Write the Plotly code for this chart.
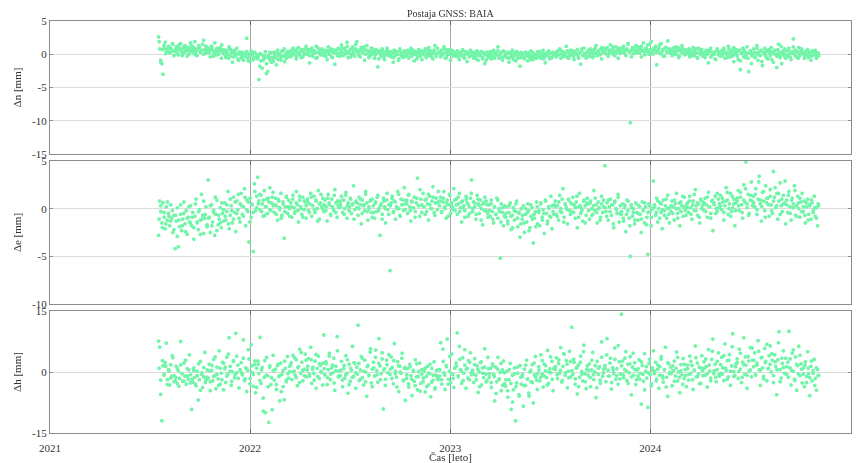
import numpy as np
import pandas as pd
import plotly.graph_objects as go
from plotly.subplots import make_subplots

title_text = "Postaja GNSS: BAIA"
x_title = "Čas [leto]"
y_titles = ["Δn [mm]", "Δe [mm]", "Δh [mm]"]
year_ticks = ["2021", "2022", "2023", "2024", "2025"]
y_ticks_n = [5, 0, -5, -10, -15]
y_ticks_e = [5, 0, -5, -10]
y_ticks_h = [15, 0, -15]
first_epoch = "2021-07-18"
last_epoch = "2024-11-03"

# daily solutions, set A (even days)
dn_text = """
2.6 0.8 -0.9 -1.4 -3.0 0.9 1.8 0.4 0.6 1.2 0.2 0.9 0.5 1.5 -0.2
0.4 1.1 0.7 -0.1 0.9 1.6 0.3 0.8 0.2 1.3 0.6 -0.3 1.0 0.5 0.9
1.4 0.2 0.7 1.9 0.4 -0.2 0.8 1.1 0.3 0.6 1.5 0.0 0.7 1.2 0.5
0.9 0.3 -0.4 1.2 0.6 0.1 1.7 0.4 -0.1 0.8 0.5 1.0 -0.6 0.3 0.7
0.2 -0.5 0.6 0.0 1.1 -0.3 0.4 -1.2 0.5 0.1 -0.2 0.9 -0.7 0.3 0.0
-0.4 0.3 -0.9 0.1 -0.3 2.4 -0.6 0.0 -1.1 0.5 -0.2 -0.8 0.2 -0.5 -0.1
-0.7 -3.8 0.1 -1.0 -2.1 -0.3 -0.6 0.4 -1.4 -2.6 -0.2 -0.8 0.2 -0.5 -1.1
0.3 -0.5 -1.6 0.6 -0.2 0.1 -0.9 0.5 -0.3 0.8 -0.1 -0.6 0.4 0.0 -0.4
0.5 -0.2 0.9 0.1 0.6 -0.7 0.3 1.0 -0.1 0.4 0.7 -0.4 0.2 0.8 0.0
0.1 0.7 -1.3 0.4 0.9 -0.3 0.5 0.2 1.2 -0.5 0.3 0.6 -0.1 0.8 0.2
-0.2 0.6 0.3 -0.8 1.1 0.0 0.4 -0.4 0.7 0.2 -1.5 0.5 0.1 0.9 -0.3
0.6 1.4 -0.2 0.3 0.9 0.1 1.8 -0.5 0.4 0.7 0.0 1.1 0.2 -0.3 0.8
1.9 0.2 0.5 -0.4 1.0 0.3 0.8 -0.9 0.6 1.3 0.1 0.4 -0.2 0.9 0.5
0.0 -0.6 0.7 0.3 -1.9 0.5 0.1 -0.3 0.8 0.2 -0.8 0.4 -0.1 0.6 0.2
0.3 -0.4 0.1 -1.2 0.6 -0.2 0.4 0.0 -0.7 0.8 -0.1 0.2 -0.5 0.5 -0.3
-0.2 0.6 -0.6 0.1 0.9 -0.3 0.3 -1.0 0.4 0.0 -0.4 0.7 -0.1 0.2 -0.8
0.4 -0.1 0.8 -0.5 0.2 1.0 -0.2 0.5 0.0 -0.7 0.6 0.1 -0.3 0.9 0.3
0.2 -0.4 0.6 0.0 1.1 -0.6 0.3 -0.1 0.7 0.4 -0.9 0.1 0.5 -0.2 0.0
-0.3 0.5 0.1 -0.8 0.3 -0.2 0.7 -0.5 0.0 0.4 -1.1 0.2 -0.4 0.6 -0.1
0.1 -0.6 0.3 -0.3 0.5 -0.9 0.0 -0.2 0.4 -0.7 0.2 -1.4 -0.1 0.3 -0.5
-0.2 0.4 -0.7 0.1 0.6 -0.4 0.2 -0.1 1.1 -0.6 0.0 0.3 -0.9 0.5 -0.3
0.0 -0.5 0.3 -1.2 0.2 -0.3 0.6 -0.8 0.1 -0.2 0.4 -0.6 0.0 -1.8 0.3
-0.4 0.1 -0.7 0.3 -0.2 -1.0 0.2 -0.5 0.5 -0.3 -0.8 0.0 -0.1 -0.6 0.4
-0.3 0.4 -0.6 0.0 0.6 -0.4 -1.3 0.2 -0.2 0.5 -0.7 0.1 -0.5 0.3 -0.1
0.2 -0.4 0.5 -0.1 0.8 -0.6 0.1 0.4 -0.3 0.0 1.2 -0.5 0.3 -0.2 0.6
-0.1 0.5 -0.8 0.3 0.0 0.7 -0.4 0.2 -1.5 0.4 -0.2 0.9 0.1 -0.6 0.3
0.4 -0.3 0.8 0.1 -0.5 0.6 0.2 1.3 -0.2 0.5 0.0 0.7 -0.7 0.3 0.9
0.6 0.1 1.0 -0.3 0.5 1.4 0.2 0.8 -0.1 0.4 1.1 0.3 -0.6 0.7 0.5
0.9 0.3 1.2 0.5 -0.2 0.8 1.5 0.4 -10.3 0.6 1.0 0.1 0.7 1.3 0.2
1.1 0.4 0.8 -0.4 0.6 1.7 0.3 0.9 0.5 1.4 0.0 0.7 1.9 0.2 0.8
0.6 1.2 -1.6 0.4 0.9 0.1 1.6 0.5 -0.3 0.8 1.0 0.3 2.0 0.6 0.2
0.5 -0.2 0.9 0.3 1.1 0.0 0.6 -0.5 0.8 0.4 1.3 0.1 0.7 -0.1 0.5
0.3 0.8 -0.4 0.5 0.1 1.0 -0.2 0.6 0.2 -0.6 0.9 0.4 0.0 0.7 -0.3
0.2 -0.5 0.6 0.0 -1.3 0.4 0.9 -0.2 0.3 0.1 -0.7 0.5 0.8 -0.1 0.2
-0.3 0.5 0.1 0.9 -0.6 0.3 -0.1 1.2 0.2 -0.4 0.6 0.0 -1.1 0.4 0.7
0.3 -0.8 0.6 -2.3 0.1 0.9 -0.4 0.4 -0.1 1.1 -0.6 0.2 0.5 -1.4 0.0
0.8 -0.5 0.2 1.3 -0.9 0.4 -0.2 0.6 -1.7 0.1 0.9 -0.3 0.5 -0.7 0.3
-0.2 1.0 0.3 -1.2 0.6 0.0 -2.0 0.7 0.2 -0.5 1.2 0.4 -0.1 0.8 -0.6
0.5 -0.3 0.9 0.1 -0.8 0.4 2.3 0.0 0.6 -0.4 0.3 1.0 -0.2 0.5 0.1
0.2 -0.6 0.4 0.0 0.7 -0.3 0.3 -0.9 0.5 -0.1 0.2 0.6 -0.4 0.1 -0.2
"""

de_text = """
-2.8 0.8 -0.3 -1.5 0.6 -0.9 -2.1 0.2 -1.2 -0.5 -1.8 0.4 -1.0 -2.5 -0.7
-4.2 -1.3 0.1 -4.0 -1.9 -0.6 -2.3 -1.1 0.7 -1.6 -0.2 -2.7 -0.9 -1.4 0.3
-1.8 -0.4 -3.2 -0.8 1.0 -1.5 -2.2 -0.1 -1.2 1.5 -0.7 -2.6 -1.0 0.2 -1.9
3.0 -0.9 -2.5 0.4 -1.4 -0.2 -2.8 -0.6 0.9 -1.7 -1.1 0.1 -2.0 -0.5 -1.3
0.6 -1.2 -0.3 1.8 -2.1 -0.7 0.3 -1.5 1.2 -0.4 -2.4 0.8 -0.1 -1.0 0.5
1.6 -0.6 0.2 2.1 -1.8 0.9 -0.3 -3.5 1.1 -0.9 0.4 -4.5 2.6 -0.2 1.3
3.3 0.8 -0.1 1.4 0.5 -0.8 1.9 0.2 1.0 -0.5 0.7 2.2 -0.2 1.2 0.3
-0.4 1.1 0.3 -1.2 0.8 -0.1 1.6 -0.7 0.5 -3.1 0.2 1.3 -0.5 0.9 0.0
0.6 -0.9 1.4 0.1 -0.3 1.8 0.4 -1.4 0.9 0.2 -0.6 1.2 -0.1 0.7 -1.0
1.0 -0.2 0.5 1.6 -0.8 0.3 1.3 -0.4 0.8 0.0 1.9 -1.1 0.6 0.2 1.1
-0.3 0.9 0.2 -1.3 1.5 0.4 -0.6 1.0 0.1 -0.2 2.0 0.6 -0.9 0.3 0.8
0.5 1.3 -0.4 0.9 0.0 1.7 -1.0 0.6 0.2 1.1 -0.5 0.4 2.4 -0.1 0.8
0.1 -0.7 1.2 0.4 -1.6 0.9 0.3 -0.2 1.5 0.6 -1.2 0.0 0.8 -0.4 1.0
0.3 -1.0 0.7 -0.3 1.4 0.0 -2.8 0.5 -0.6 1.1 0.2 -1.5 0.9 -0.1 0.4
-6.5 0.6 1.3 -0.4 0.8 -1.1 0.2 1.8 0.0 -0.7 1.0 0.4 -0.2 2.2 0.5
0.9 -0.5 1.5 0.2 -1.3 0.7 0.1 1.2 -0.3 0.6 3.2 0.3 -0.8 1.0 0.4
1.6 0.2 -0.6 1.0 0.5 -1.2 1.3 0.0 0.8 2.3 -0.4 0.6 1.1 -0.1 0.7
0.3 1.2 -0.3 0.7 1.8 0.0 -1.0 0.9 0.4 1.5 -0.5 0.6 0.1 2.1 -0.2
1.0 -0.6 0.5 1.6 0.1 -1.4 0.8 0.3 -0.2 1.3 0.6 -0.8 0.2 1.1 3.0
-0.3 0.7 0.2 -1.1 1.4 0.5 -0.5 0.9 0.0 -1.7 0.6 1.2 -0.2 0.4 -0.9
0.4 -0.8 0.9 -0.3 -1.5 0.2 -0.6 1.1 -1.0 0.0 -5.2 0.5 -0.4 -1.8 0.3
-0.9 0.2 -1.6 -0.4 0.6 -2.2 -0.7 0.1 -1.2 -0.3 0.8 -1.9 -0.5 -3.0 0.0
-1.1 0.3 -2.5 -0.6 -1.4 0.5 -0.2 -2.0 -0.8 0.1 -3.6 -1.0 -0.3 0.7 -1.6
-0.4 -1.8 0.6 -0.9 -0.1 -2.6 0.9 -0.5 -1.3 0.2 -0.8 1.3 -2.1 -0.3 0.4
0.8 -0.6 0.3 -1.2 1.4 0.0 -0.4 2.1 -0.9 0.5 0.1 -1.6 1.0 -0.2 0.6
-0.3 1.2 0.4 -1.0 0.7 -2.0 0.2 1.6 -0.5 0.0 -1.3 0.9 0.3 -0.7 1.1
0.5 -1.1 0.8 0.0 -0.6 1.9 -0.2 0.4 -1.5 0.7 0.1 -0.9 1.3 -0.4 0.2
4.5 -0.3 0.6 -1.2 0.2 1.0 -0.7 0.4 -2.0 0.8 0.0 -0.5 1.5 -1.4 0.3
-0.6 0.5 -1.3 0.1 -2.4 0.9 -0.2 -1.0 -5.0 0.4 -0.8 0.0 -1.6 0.6 -0.4
-1.2 0.3 -0.6 -2.5 0.7 -0.1 -1.5 0.2 -0.9 -4.8 0.5 -0.3 -1.8 0.0 2.9
0.4 -0.7 1.1 -1.4 0.0 0.6 -0.4 -2.1 0.9 -0.2 0.3 -1.0 1.4 -0.6 0.1
-0.3 0.8 0.2 -1.2 0.5 1.6 -0.5 0.0 -1.8 0.7 0.3 -0.8 1.2 -0.2 0.4
0.6 -0.4 1.3 0.1 -1.1 0.8 -0.2 2.0 0.3 -0.7 0.5 -1.5 1.0 0.0 0.7
-0.2 1.1 0.4 -0.9 1.7 0.2 -0.5 0.8 -2.3 0.6 1.3 0.0 -0.3 1.0 0.5
1.4 -0.1 0.7 -1.2 0.3 2.2 0.9 -0.6 0.5 1.6 -0.3 0.1 1.0 -1.8 0.6
0.8 1.9 -0.2 1.2 0.4 -1.0 2.5 0.7 4.9 0.1 1.5 -0.5 0.9 2.8 0.3
1.3 0.2 2.1 -0.6 1.0 3.4 0.5 -1.3 1.7 0.8 -0.2 2.4 0.6 1.1 -0.8
2.0 0.4 -0.5 3.9 1.2 0.1 1.6 -1.1 0.8 2.7 0.3 -0.3 1.4 0.6 -1.6
0.9 -0.4 1.8 0.2 -1.2 1.1 0.5 2.4 -0.7 0.3 1.3 0.0 -0.9 0.7 1.6
-0.3 0.8 -1.5 0.2 1.0 -0.6 0.4 -1.1 0.6 -0.2 1.3 -0.8 0.1 -1.8 0.3
"""

dh_text = """
7.6 6.1 -5.5 -12.0 1.5 -0.8 2.3 7.1 -1.9 0.6 -3.2 1.8 -1.1 3.5 -2.4
-2.1 1.4 -2.8 0.3 -1.6 7.5 -0.4 -2.3 2.2 -1.0 -3.0 0.8 -1.8 4.2 -0.7
-9.2 -2.5 1.0 -1.3 -3.4 0.2 -6.9 -1.9 2.6 -0.6 -3.8 -1.2 4.8 -2.0 0.5
-1.5 1.9 -4.6 0.4 -2.2 3.1 -0.9 -4.1 1.2 -1.7 5.2 -3.0 -0.3 2.4 -4.4
0.8 -2.6 3.6 -0.5 8.4 1.4 -3.3 0.1 2.8 -1.4 9.5 -0.2 1.7 -3.9 0.6
2.3 -0.7 7.9 -2.1 1.0 -4.8 0.4 3.2 -1.6 6.7 -0.1 -3.5 1.8 -5.1 0.9
2.7 -0.4 8.5 -2.8 1.1 -9.6 -1.3 -10.0 3.6 -0.9 -12.4 1.5 -3.1 -9.3 0.3
-2.0 0.7 -4.3 1.6 -1.1 -7.1 2.2 -0.6 -3.6 -6.8 0.9 -2.4 3.8 -1.5 0.1
1.8 -1.9 4.1 0.2 -0.8 3.0 -3.4 1.3 5.6 -0.3 2.4 -2.2 0.7 4.4 -1.2
0.5 3.3 -1.0 6.1 -2.8 1.2 -0.4 2.7 -4.0 0.9 3.9 -1.6 1.7 -0.1 2.2
9.1 -0.7 2.0 -3.1 0.6 4.6 -1.9 1.0 -0.2 3.4 -4.5 1.4 8.7 -1.2 0.3
-0.9 2.6 -3.6 0.8 -1.5 4.0 -0.3 -5.2 1.9 -2.3 0.4 6.3 -1.1 2.1 -4.0
1.2 11.5 -2.1 0.5 3.8 -1.4 -3.2 2.9 0.0 -6.0 1.6 -0.8 4.9 -2.7 0.7
2.4 -1.0 5.4 0.3 -2.5 8.2 1.5 -0.4 3.2 -9.1 0.8 -1.8 2.9 -0.2 4.3
-0.6 3.7 1.1 -2.9 7.0 0.2 -1.3 2.5 -4.8 1.4 -0.3 4.6 -2.0 0.9 -7.0
-1.6 0.8 -3.7 1.9 -0.9 -5.8 0.4 -2.3 3.0 -1.2 -4.4 0.1 2.2 -2.8 -0.5
-2.4 0.3 -4.9 -1.1 1.4 -3.2 -0.4 -6.1 0.9 -2.0 2.5 -3.9 -0.8 -1.6 0.6
-1.0 7.2 -3.0 5.6 -0.2 -4.3 1.6 8.1 -1.8 0.2 -2.6 4.4 -0.6 -3.8 1.1
2.2 9.6 -1.2 6.3 0.6 -2.8 3.5 -0.3 1.7 -4.0 0.9 2.8 -1.9 4.7 -0.7
0.4 -2.6 3.3 -0.8 1.5 -5.0 0.0 2.3 -3.2 1.0 -1.4 5.7 -0.5 -2.1 0.8
-1.3 0.9 -3.8 2.0 -0.6 -7.1 1.2 -2.4 3.6 -1.7 -0.1 -4.6 0.5 2.7 -2.9
-3.5 0.2 -6.2 -1.9 2.1 -9.2 -0.8 -4.4 1.0 -12.0 -2.7 -0.3 -5.6 1.6 -3.0
-1.1 -8.4 0.7 -3.3 2.9 -1.7 -5.2 0.0 -2.4 1.8 -7.6 -0.7 3.8 -2.0 -0.4
1.3 -2.2 4.2 -0.5 -3.7 1.9 0.3 -1.4 5.3 -2.8 0.8 -0.2 2.6 -4.6 1.0
0.6 3.5 -1.6 2.1 -0.3 6.0 -2.5 1.4 4.4 -0.8 2.8 -3.9 0.2 5.1 -1.2
11.0 -0.6 2.4 -3.0 0.9 -5.4 1.7 -1.3 3.9 0.1 -2.2 6.6 -0.4 -4.1 1.5
-0.8 2.0 -3.6 0.5 4.8 -1.9 0.0 -6.3 2.6 -0.6 1.3 -2.8 7.4 -1.1 0.7
1.6 -2.4 8.2 0.4 -1.0 3.4 -4.2 1.1 -0.3 5.9 -1.8 0.8 -3.0 2.5 -0.5
14.2 2.7 -1.4 0.6 5.0 -2.1 1.9 -0.2 3.8 -5.6 1.2 -0.8 2.3 -3.1 0.5
-1.0 3.0 -0.3 -7.9 1.6 -2.3 4.5 0.2 -1.5 -8.7 2.1 -0.6 -3.4 1.0 5.2
-0.4 2.4 -1.8 0.7 -4.0 1.3 3.2 -0.9 -2.5 0.5 6.1 -1.3 -6.0 2.0 -0.1
1.1 -3.4 0.3 2.7 -1.0 4.9 -2.2 0.0 -5.1 1.8 -0.7 3.3 -1.6 0.6 -3.6
0.8 -2.0 3.9 -0.3 1.6 -4.3 0.4 6.4 -1.2 2.2 -0.5 -2.9 1.0 4.0 -0.9
2.5 -0.8 1.3 -3.7 5.5 0.2 -1.5 3.1 8.1 -0.4 1.9 -2.4 0.6 4.7 -1.0
-0.3 3.6 1.0 -2.1 6.9 0.4 2.8 -1.2 4.3 -3.3 1.5 9.4 0.1 -0.9 2.0
3.2 -1.6 5.6 0.7 -2.6 2.4 8.4 -0.5 1.7 -4.0 3.8 0.2 6.0 -1.2 2.9
1.3 4.7 -0.8 2.2 7.7 0.5 -3.3 3.5 1.0 -1.1 5.8 2.6 -2.2 0.8 4.0
6.4 0.0 2.9 -2.6 4.2 1.4 -5.6 3.0 9.9 0.6 -1.5 2.1 5.2 -0.3 3.4
-0.6 2.4 10.0 1.0 -3.2 4.6 0.2 -1.8 3.7 -4.5 1.6 6.3 -0.9 2.0 -2.7
0.9 -3.6 2.5 -1.1 5.0 -0.4 -5.8 1.4 -2.2 0.3 3.1 -1.6 -4.5 0.6 -0.8
"""

# daily solutions, set B (odd days)
dn_text_b = """
1.9 -1.2 0.7 1.3 0.1 0.8 1.0 0.3 1.6 0.5
0.8 0.2 1.4 0.6 -0.2 1.1 0.4 0.9 0.0 1.7
0.5 1.0 -0.1 0.8 1.3 0.3 0.6 2.1 0.2 0.9
0.2 0.7 1.1 -0.3 0.5 0.9 0.0 0.6 1.4 0.1
-0.1 0.4 -0.6 0.8 0.2 -0.4 0.6 0.0 -0.9 0.3
-0.6 0.0 -0.3 0.4 -1.0 -0.2 0.1 -0.7 0.3 -0.4
-0.4 -1.8 0.0 -0.9 -0.2 -2.9 -0.5 0.3 -1.2 -0.6
-0.2 0.2 -0.8 0.0 -0.4 0.5 -1.1 0.1 -0.3 0.4
0.3 0.0 0.6 -0.3 0.9 0.2 -0.5 0.5 0.1 1.2
0.4 -0.2 0.8 0.1 0.5 -0.6 1.0 0.3 -0.1 0.6
0.2 -0.3 0.5 0.0 0.8 -0.5 0.3 0.6 -0.2 0.1
0.3 0.9 -0.1 0.5 1.2 0.2 -0.4 0.7 0.4 1.5
0.5 -0.2 0.8 0.2 1.1 0.0 0.6 -0.5 0.3 0.9
0.3 -0.1 0.5 -0.7 0.2 0.6 -0.4 0.1 0.9 -0.2
-0.1 0.4 -0.5 0.2 0.0 -0.9 0.5 -0.3 0.3 0.1
0.1 -0.5 0.4 -0.2 0.6 0.0 -0.7 0.3 -0.3 0.5
0.0 0.5 -0.3 0.7 0.2 -0.4 0.4 1.3 -0.1 0.3
0.4 -0.2 0.1 0.8 -0.5 0.3 0.0 0.6 -0.3 0.2
0.1 -0.4 0.3 -0.1 0.5 -0.6 0.2 0.0 -0.3 0.4
-0.3 0.1 -0.7 0.2 -0.2 0.4 -0.5 0.0 -0.9 0.1
0.1 -0.3 0.3 -0.6 0.0 0.5 -0.2 0.2 -0.5 0.4
-0.2 0.2 -0.6 0.0 -0.4 0.3 -1.0 -0.1 0.1 -0.5
-0.1 -0.5 0.2 -0.3 0.0 -0.8 0.3 -0.4 -0.2 0.1
0.0 -0.3 0.3 -0.7 0.1 -0.2 0.4 -0.5 0.2 -0.1
-0.2 0.3 0.0 0.6 -0.4 0.2 -0.1 0.5 -0.6 0.1
0.2 -0.3 0.4 0.0 -0.6 0.3 0.8 -0.2 0.1 -0.4
0.6 0.0 0.3 -0.4 0.9 0.2 0.5 -0.1 1.0 0.4
0.3 0.8 0.0 0.6 0.2 1.1 -0.2 0.5 0.9 0.1
0.5 1.0 0.2 0.7 1.6 0.3 -0.4 0.9 0.4 1.2
0.7 0.2 1.2 0.5 -0.1 0.9 0.4 1.5 0.6 0.0
0.9 0.3 0.6 1.4 0.1 0.7 -0.3 1.0 0.4 0.8
0.2 0.7 0.0 0.5 1.0 -0.3 0.4 0.8 0.1 0.6
0.5 0.0 0.6 -0.2 0.3 0.8 -0.5 0.2 0.4 -0.1
-0.1 0.4 0.1 0.6 -0.4 0.3 0.0 -0.8 0.5 0.2
0.4 -0.2 0.6 0.1 -0.5 0.8 0.2 -0.3 1.0 0.0
-0.3 0.5 -1.0 0.2 0.7 -0.5 0.1 -2.6 0.4 -0.2
0.2 -0.4 0.9 -0.1 0.5 -1.1 0.3 0.0 -0.6 0.7
0.4 -0.8 0.1 0.6 -0.3 1.5 0.0 -1.4 0.3 -0.5
-0.1 0.6 -0.4 0.3 1.1 -0.2 0.4 -0.6 0.0 0.8
0.3 -0.2 0.5 -0.5 0.1 -0.3 0.4 0.0 -0.6 0.2
"""

de_text_b = """
-1.1 0.3 -2.0 -0.4 -1.6 0.7 -0.8 -1.3 -0.2 -2.2
-0.7 -2.9 -1.2 0.4 -1.8 -0.5 -2.4 -1.0 0.2 -1.5
-0.9 -2.0 0.5 -1.4 -0.3 -2.7 -1.1 0.8 -0.6 -1.7
-1.0 0.3 -1.8 -0.4 1.2 -2.3 -0.7 -1.5 0.6 -0.1
-0.8 0.4 -1.6 1.0 -0.2 -1.1 0.7 -0.5 1.5 -1.4
0.3 -0.8 1.2 -0.1 0.7 -1.4 0.5 -0.4 1.8 0.1
0.5 1.5 -0.3 0.9 -0.7 0.2 1.1 -0.1 0.6 1.7
0.4 -0.6 1.0 0.1 -1.0 0.7 -0.3 1.2 0.2 -0.8
0.2 1.0 -0.5 0.6 -0.2 1.3 0.0 -0.9 0.8 0.3
0.7 -0.4 1.2 0.3 -0.1 0.9 -1.3 0.5 1.5 0.0
0.4 -0.2 1.1 0.6 -0.7 0.2 1.4 -0.4 0.8 0.1
0.2 0.9 -0.6 1.4 0.3 -0.2 1.0 0.5 -1.1 0.7
0.6 0.0 1.0 -0.5 0.4 1.8 -0.3 0.2 0.9 -0.9
-0.4 0.6 1.2 -0.2 0.3 -1.1 0.8 0.0 1.6 -0.6
0.3 1.1 -0.3 0.7 0.0 1.5 -0.8 0.4 0.9 -0.1
0.5 1.4 -0.2 0.8 0.1 -0.9 1.1 0.3 2.0 -0.4
0.2 0.9 -0.3 1.5 0.4 0.0 1.2 -0.7 0.6 1.8
0.8 -0.4 1.1 0.2 0.6 -0.8 1.4 0.3 -0.1 0.9
0.4 1.2 -0.3 0.7 0.1 -0.9 1.0 0.5 -0.5 1.6
0.0 0.6 -0.6 1.0 0.3 -1.2 0.5 -0.2 0.8 -0.5
-0.2 0.5 -1.1 0.2 -0.6 0.9 -0.3 -1.4 0.1 -0.8
-0.5 -1.3 0.3 -0.8 -2.0 -0.2 0.5 -1.0 -0.4 -1.6
-0.7 -1.5 0.0 -0.4 -2.3 0.4 -1.1 -0.6 -1.9 0.2
-0.2 0.5 -1.2 -0.5 0.8 -1.6 0.0 -0.9 0.3 -0.6
0.2 -0.8 0.7 -0.3 1.0 -1.4 0.4 -0.1 0.9 -0.6
0.5 -0.4 0.1 1.3 -0.9 0.3 -0.2 0.8 -1.5 0.6
-0.2 0.6 -0.7 0.3 1.1 -0.4 0.0 -1.2 0.5 0.9
0.1 -0.8 0.9 -0.3 0.4 -1.6 0.7 -0.1 1.2 -0.5
-0.3 -1.0 0.4 -0.6 0.8 -1.8 0.1 -0.4 -1.2 0.5
-0.5 0.2 -1.1 -0.2 0.6 -1.7 -0.4 0.3 -0.9 0.0
0.2 -0.4 0.8 -1.0 0.5 -0.1 -0.7 1.0 0.0 -1.5
0.3 -0.5 0.9 0.0 -1.0 0.6 -0.3 1.3 0.1 -0.7
0.1 0.8 -0.6 0.4 1.5 -0.2 0.6 -0.9 0.9 0.3
0.6 -0.3 1.2 0.2 -1.0 0.9 0.4 -0.5 1.6 0.1
0.3 1.1 -0.4 0.8 1.7 0.0 -0.8 1.3 0.5 -0.2
1.1 0.3 1.7 -0.4 0.9 2.1 0.5 -0.7 1.4 0.8
0.6 1.5 -0.1 2.8 0.9 0.2 1.8 -0.9 1.1 0.4
1.3 -0.2 0.8 2.2 0.3 1.6 -0.6 1.0 0.5 2.9
0.4 1.4 -0.5 0.9 0.1 1.9 -0.8 0.6 1.1 -0.3
0.2 -0.7 0.6 -1.2 0.3 0.9 -0.4 0.1 -1.0 0.5
"""

dh_text_b = """
0.9 -2.0 2.8 -0.5 1.4 -3.1 0.3 -1.5 4.0 -0.9
-1.3 0.9 -3.5 1.7 -0.4 -2.2 2.9 -1.0 0.5 -2.7
-1.8 0.4 -3.0 -0.9 2.0 -4.5 -0.2 1.1 -2.6 -1.3
0.3 -2.4 1.6 -1.1 3.7 -0.6 -3.3 0.9 -1.9 2.2
1.2 -1.0 4.4 0.2 -2.3 2.6 -0.7 3.9 -1.6 0.5
-0.2 3.4 -1.7 0.8 5.5 -2.9 1.5 -0.6 2.7 -3.8
1.9 -2.1 0.5 -6.4 2.8 -0.8 -3.6 1.2 -1.4 4.1
0.6 -3.1 1.9 -0.9 -4.8 0.3 2.7 -2.0 -0.4 1.4
2.3 0.0 3.5 -1.4 1.1 -2.6 4.8 0.4 -0.9 2.9
1.4 -0.6 3.0 0.6 -2.0 4.3 -1.1 2.0 0.1 -3.2
0.8 2.5 -1.4 3.9 -0.5 1.7 -2.7 0.3 5.2 -0.9
0.4 -2.0 1.6 -0.7 3.0 -3.1 0.9 -1.3 2.3 -0.2
-0.5 2.1 -1.8 3.4 0.2 -2.4 1.3 -0.9 5.7 -3.6
1.0 3.6 -0.7 2.1 -1.9 4.7 0.5 -3.3 1.8 -0.3
0.7 -1.6 2.8 -0.4 -3.7 1.5 0.0 3.4 -2.2 1.1
-0.7 -2.9 1.3 -1.8 0.2 -3.4 2.0 -1.1 -4.7 0.6
-1.5 0.9 -3.6 -0.3 1.9 -2.5 -0.8 -4.2 0.4 -1.9
0.5 -1.9 2.6 -0.8 1.3 -3.0 3.8 -0.4 -1.6 0.9
1.4 -0.9 3.1 0.2 -2.1 5.5 0.7 -1.5 2.4 -0.2
-0.6 1.8 -1.9 0.6 -3.6 2.5 -0.3 1.2 -2.4 3.6
-0.4 -2.6 1.5 -1.1 -5.3 0.7 -1.8 2.1 -3.3 -0.2
-1.9 -4.6 0.6 -2.8 -7.4 -0.5 -3.6 1.2 -5.9 -1.3
-0.6 -3.4 1.7 -1.8 -5.9 0.4 -2.6 2.2 -1.2 -4.3
0.5 -1.3 2.8 -0.9 1.6 -3.2 0.0 3.7 -1.8 0.8
1.3 -0.6 3.0 0.4 -2.1 4.5 -0.2 1.9 -1.4 2.6
0.3 3.1 -1.7 1.2 -3.6 2.4 -0.5 5.0 -2.4 0.6
0.4 -1.4 2.9 -0.7 1.6 -3.9 0.9 -2.0 3.6 -0.2
0.9 4.2 -1.0 2.2 -2.6 0.5 3.1 -0.9 6.5 -1.7
1.5 -0.7 3.4 0.2 -2.8 2.0 -1.2 4.6 0.6 -1.9
0.8 -1.8 2.5 -0.6 -4.4 1.3 -0.2 3.1 -2.9 0.4
0.2 -2.2 1.7 -0.8 3.8 -1.5 0.6 -3.7 2.3 -0.4
-0.4 1.5 -2.3 0.9 3.6 -1.3 0.3 -3.0 1.9 -0.8
1.7 -0.6 2.6 -1.9 0.5 3.5 -1.1 1.2 -2.8 0.3
0.9 3.2 -0.4 1.7 -2.2 5.1 0.3 -1.3 2.6 -0.7
1.8 -0.5 4.0 0.9 -1.8 2.9 0.2 6.2 -1.1 1.3
2.3 0.1 4.6 -1.3 1.8 3.7 -0.8 2.7 0.5 5.9
2.9 -0.6 1.7 5.1 0.4 3.6 -1.7 2.3 6.8 0.9
1.9 4.5 -0.9 2.5 0.6 7.2 -2.4 3.4 1.1 -0.4
1.3 -1.3 3.2 0.4 5.4 -2.1 1.9 -0.5 4.1 0.7
-0.5 1.6 -2.6 0.9 -1.4 2.7 -0.3 -3.3 1.0 -0.9
"""


def parse(txt):
    return [float(v) for v in txt.split()]


dn = parse(dn_text)
de = parse(de_text)
dh = parse(dh_text)
dn_b = parse(dn_text_b)
de_b = parse(de_text_b)
dh_b = parse(dh_text_b)


def epochs(n, offset_days=0):
    t0 = (pd.Timestamp(first_epoch) + pd.Timedelta(days=offset_days)).value
    t1 = (pd.Timestamp(last_epoch) - pd.Timedelta(days=offset_days)).value
    return pd.to_datetime(np.linspace(t0, t1, n).astype("int64"))


W, H = 861, 463
ML, MR, MT, MB = 50, 10, 21, 30
PH = H - MT - MB

fig = make_subplots(rows=3, cols=1, shared_xaxes=True, vertical_spacing=0.02)

series = [(dn, dn_b), (de, de_b), (dh, dh_b)]
ranges = [[-15, 5], [-10, 5], [-15, 15]]
ticks = [y_ticks_n, y_ticks_e, y_ticks_h]
pix = [(21, 154), (161, 304), (311, 433)]

font_family = "Liberation Serif"
txt_color = "#333333"
pt_color = "#72f5a9"

for i, (va, vb) in enumerate(series):
    xs = list(epochs(len(va))) + list(epochs(len(vb), 1))
    ys = va + vb
    fig.add_trace(
        go.Scattergl(
            x=xs, y=ys, mode="markers",
            marker=dict(size=4, color=pt_color, line=dict(width=0)),
            showlegend=False, hoverinfo="skip",
        ),
        row=i + 1, col=1,
    )
    top, bot = pix[i]
    d = [(H - MB - bot) / PH, (H - MB - top) / PH]
    yk = "yaxis" if i == 0 else f"yaxis{i+1}"
    xk = "xaxis" if i == 0 else f"xaxis{i+1}"
    fig.layout[yk].update(
        domain=d, range=ranges[i], tickvals=ticks[i],
        ticktext=[str(t) for t in ticks[i]],
        showgrid=True, gridcolor="#dcdcdc", gridwidth=1, zeroline=False,
        showline=True, mirror="ticks", linecolor="#8c8c8c", linewidth=1.2,
        ticks="inside", ticklen=3, tickcolor="#8c8c8c",
        tickfont=dict(family=font_family, size=11, color=txt_color),
        title=dict(text=y_titles[i], font=dict(family=font_family, size=11, color=txt_color), standoff=8),
    )
    fig.layout[xk].update(
        type="date", range=["2021-01-01", "2025-01-01"],
        tickvals=[f"{y}-01-01" for y in year_ticks], ticktext=year_ticks,
        showticklabels=(i == 2),
        showgrid=True, gridcolor="#a8a8a8", gridwidth=1, zeroline=False,
        showline=True, mirror="ticks", linecolor="#8c8c8c", linewidth=1.2,
        ticks="inside", ticklen=4, tickcolor="#666666",
        tickfont=dict(family=font_family, size=11, color=txt_color),
    )

fig.layout["xaxis3"].update(
    ticklabelstandoff=5, automargin=False,
    title=dict(text=x_title, font=dict(family=font_family, size=11, color=txt_color), standoff=5),
)

fig.add_annotation(
    text=title_text, xref="paper", yref="paper", x=0.5, y=1, yanchor="bottom",
    showarrow=False, yshift=0, font=dict(family=font_family, size=10, color=txt_color),
)

fig.update_layout(
    width=W, height=H, margin=dict(l=ML, r=MR, t=MT, b=MB),
    paper_bgcolor="white", plot_bgcolor="white",
)

fig.write_html("out.html")
